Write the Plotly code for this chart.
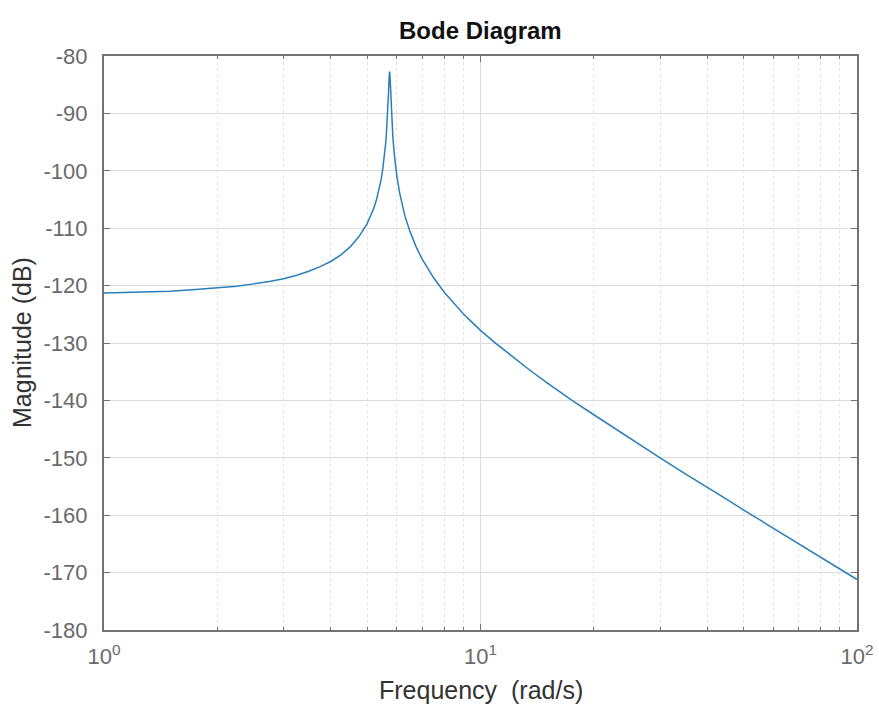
import plotly.graph_objects as go

# Frequency (rad/s) and magnitude (dB)
freq = [1.0, 1.25, 1.5, 1.75, 2.0, 2.25, 2.5, 2.75, 3.0, 3.25, 3.5, 3.75, 4.0,
        4.25, 4.5, 4.75, 5.0, 5.1, 5.2, 5.3, 5.4, 5.45, 5.5, 5.55, 5.6, 5.62,
        5.65, 5.68, 5.7, 5.72, 5.736, 5.75, 5.77, 5.79, 5.8, 5.85, 5.9, 5.95,
        6.0, 6.1, 6.2, 6.3, 6.5, 6.75, 7.0, 7.25, 7.5, 8.0, 8.5, 9.0, 9.5, 10.0,
        11.0, 12.0, 13.5, 15.0, 17.5, 20.0, 25.0, 30.0, 35.0, 40.0, 45.0, 50.0,
        60.0, 70.0, 80.0, 90.0, 100.0]
mag_db = [-121.3, -121.1, -121.0, -120.7, -120.4, -120.1, -119.7, -119.3, -118.8,
          -118.2, -117.5, -116.7, -115.8, -114.7, -113.3, -111.5, -109.2, -108.0,
          -106.6, -104.9, -102.7, -101.4, -99.7, -97.8, -95.2, -93.9, -91.6,
          -88.6, -86.1, -83.6, -82.7, -83.5, -85.9, -88.5, -89.6, -94.0, -97.0,
          -99.3, -101.1, -103.9, -106.1, -107.9, -110.6, -113.3, -115.4, -117.1,
          -118.6, -121.1, -123.1, -124.9, -126.4, -127.8, -130.1, -132.1, -134.7,
          -136.9, -140.0, -142.5, -146.7, -150.0, -152.8, -155.1, -157.2, -159.1,
          -162.3, -165.0, -167.3, -169.4, -171.2]

x_tickvals = [1, 10, 100]
x_ticktext = ["10<sup>0</sup>", "10<sup>1</sup>", "10<sup>2</sup>"]
x_minorvals = [2, 3, 4, 5, 6, 7, 8, 9, 20, 30, 40, 50, 60, 70, 80, 90]
y_tickvals = [-180, -170, -160, -150, -140, -130, -120, -110, -100, -90, -80]
y_ticktext = ["-180", "-170", "-160", "-150", "-140", "-130", "-120", "-110",
              "-100", "-90", "-80"]

title_text = "Bode Diagram"
x_label = "Frequency  (rad/s)"
y_label = "Magnitude (dB)"

FONT = "Liberation Sans, Arial, sans-serif"
AXIS_COL = "#727272"
GRID_COL = "#dcdcdc"

fig = go.Figure()
fig.add_trace(go.Scatter(x=freq, y=mag_db, mode="lines",
                         line=dict(color="#2a7fba", width=1.5),
                         hoverinfo="skip", showlegend=False))

fig.update_layout(
    width=879, height=708,
    margin=dict(l=104, r=22, t=56, b=78, autoexpand=False),
    paper_bgcolor="white", plot_bgcolor="white",
    font=dict(family=FONT, color="#4a4a4a"),
    showlegend=False,
    annotations=[
        dict(text="<b>" + title_text + "</b>", xref="paper", yref="paper",
             x=0.5, y=1.0, yshift=26, showarrow=False, xanchor="center", yanchor="middle",
             font=dict(size=24, color="#111111", family=FONT)),
        dict(text=x_label, xref="paper", yref="paper",
             x=0.5, y=0, yshift=-60, showarrow=False, xanchor="center", yanchor="middle",
             font=dict(size=25, color="#333333", family=FONT)),
        dict(text=y_label, xref="paper", yref="paper",
             x=0, xshift=-82, y=0.5, showarrow=False, xanchor="center", yanchor="middle",
             textangle=-90, font=dict(size=25, color="#333333", family=FONT)),
    ],
)

fig.update_xaxes(
    type="log", range=[0, 2], automargin=False,
    tickmode="array", tickvals=x_tickvals, ticktext=x_ticktext,
    ticks="inside", ticklen=6, tickcolor=AXIS_COL, tickwidth=1,
    tickfont=dict(size=22, color="#6a6a6a", family=FONT),
    ticklabelstandoff=6,
    showgrid=True, gridcolor=GRID_COL, gridwidth=1,
    minor=dict(tickmode="array", tickvals=x_minorvals, ticks="inside", ticklen=3,
               tickcolor=AXIS_COL, showgrid=True, gridcolor="#e4e4e4", griddash="dot", gridwidth=1),
    showline=True, linecolor=AXIS_COL, linewidth=2, mirror="ticks",
    zeroline=False, fixedrange=True,
)
fig.update_yaxes(
    range=[-180, -80], automargin=False,
    tickmode="array", tickvals=y_tickvals, ticktext=y_ticktext,
    ticks="inside", ticklen=6, tickcolor=AXIS_COL, tickwidth=1,
    tickfont=dict(size=22, color="#6a6a6a", family=FONT),
    ticklabelstandoff=10,
    showgrid=True, gridcolor=GRID_COL, gridwidth=1,
    showline=True, linecolor=AXIS_COL, linewidth=2, mirror="ticks",
    zeroline=False, fixedrange=True,
)

fig.write_html("out.html", config={"displayModeBar": False},
               post_script="document.body.style.margin='0';document.body.style.overflow='hidden';")
